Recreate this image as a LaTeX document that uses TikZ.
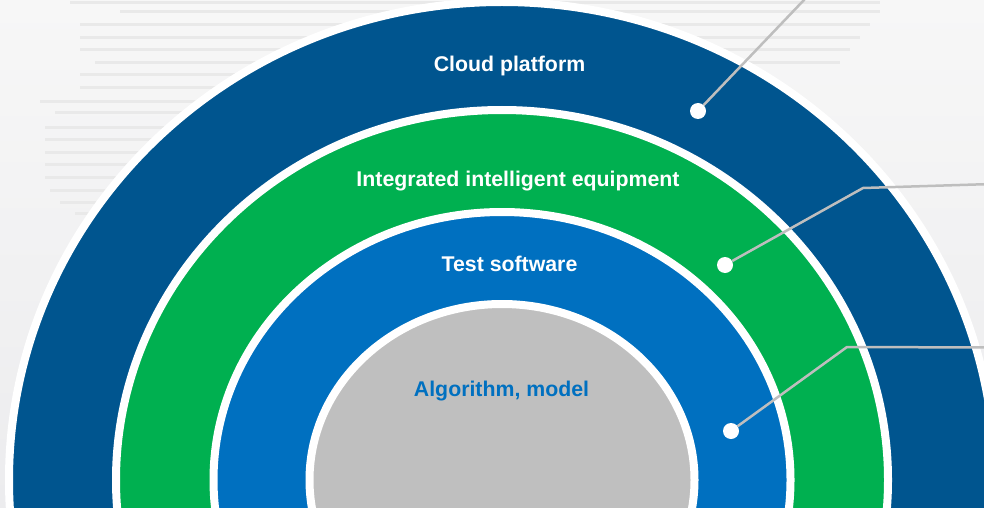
\documentclass[tikz,border=0pt]{standalone}
\usepackage{fontspec}
\setmainfont{Liberation Sans}
\definecolor{darkblue}{HTML}{00558F}
\definecolor{ringgreen}{HTML}{00B050}
\definecolor{ringblue}{HTML}{0070C0}
\definecolor{ringgray}{HTML}{BFBFBF}
\definecolor{leader}{HTML}{BEBEBE}
\definecolor{bgtop}{HTML}{F7F7F7}
\definecolor{bgbot}{HTML}{ECECEE}
\definecolor{ghost}{HTML}{E9E9E9}
\begin{document}
\begin{tikzpicture}[x=1pt,y=-1pt,
  ring/.style={draw=white, line width=8pt},
  lbl/.style={font=\fontsize{21.3}{25}\selectfont\bfseries, text=white, inner sep=0pt, anchor=base},
  dot/.style={circle, fill=white, minimum size=16pt, inner sep=0pt},
  leaderline/.style={draw=leader, line width=2.5pt},
  ghostline/.style={draw=ghost, line width=3pt}]
\useasboundingbox (0,0) rectangle (984,508);
\clip (0,0) rectangle (984,508);
\shade[top color=bgtop, bottom color=bgbot] (0,0) rectangle (984,508);
% faint background document lines
\foreach \yy/\xa/\xb in {3/70/880, 12/120/880, 25/80/870, 38/80/860, 50/80/850, 63/95/840, 75/80/700, 88/80/400, 102/40/400, 113/55/400, 127/45/400, 139/45/400, 152/45/400, 164/45/400, 177/45/400, 190/50/400, 202/60/400, 213/75/400}
  \draw[ghostline] (\xa,\yy) -- (\xb,\yy);
% rings
\draw[ring, fill=darkblue] (502,480) ellipse [x radius=493, y radius=478];
\draw[ring, fill=ringgreen] (502,480) ellipse [x radius=386, y radius=370];
\draw[ring, fill=ringblue] (502,480) ellipse [x radius=288.5, y radius=268];
\draw[ring, fill=ringgray] (502,480) ellipse [x radius=192.5, y radius=176];
% labels
\node[lbl] (cloud) at (509.5,71.7) {Cloud platform};
\node[lbl] (equip) at (518,186) {Integrated intelligent equipment};
\node[lbl] (soft) at (509.5,271.7) {Test software};
\node[lbl, text=ringblue] (algo) at (501.5,396.7) {Algorithm, model};
% leaders
\node[dot] (d1) at (698,111) {};
\node[dot] (d2) at (725,265) {};
\node[dot] (d3) at (731,431) {};
\coordinate (e1) at (813.5,-10);
\coordinate (c2) at (863,188);
\coordinate (e2) at (992,184);
\coordinate (c3) at (847,347);
\coordinate (e3) at (992,347.5);
\draw[leaderline] (d1) -- (e1);
\draw[leaderline, line join=round] (d2) -- (c2) -- (e2);
\draw[leaderline, line join=round] (d3) -- (c3) -- (e3);
\end{tikzpicture}
\end{document}
